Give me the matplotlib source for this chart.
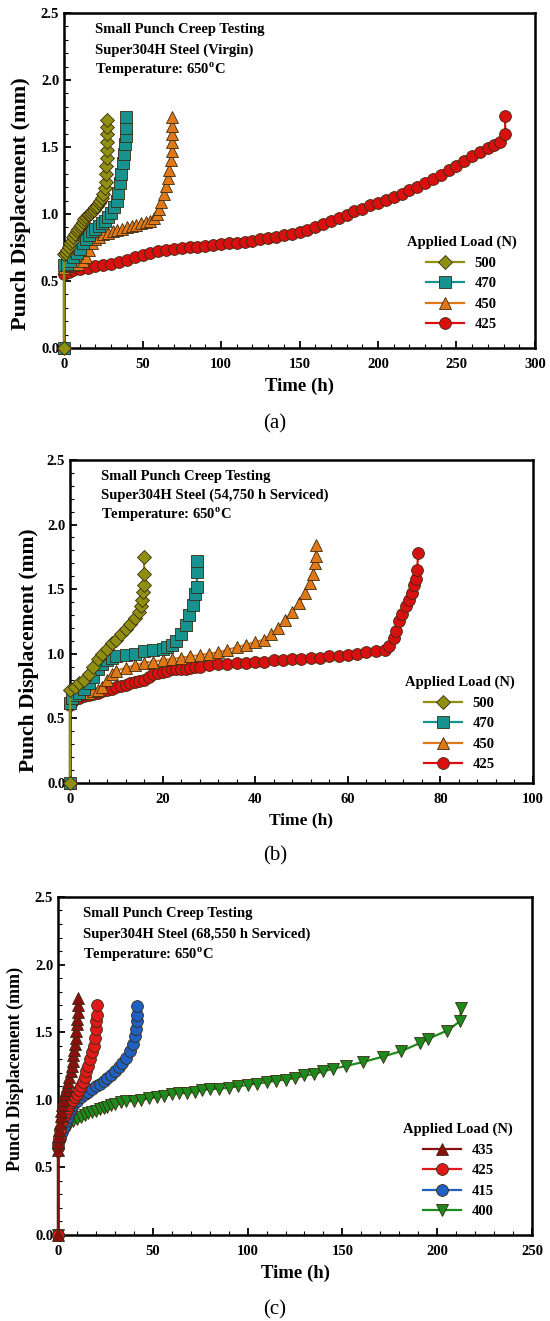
import matplotlib
matplotlib.use("Agg")
import matplotlib.pyplot as plt
from matplotlib.ticker import MultipleLocator, FormatStrFormatter

plt.rcParams['font.family'] = ['Liberation Serif', 'DejaVu Serif']
plt.rcParams['font.weight'] = 'bold'
plt.rcParams['mathtext.fontset'] = 'custom'
plt.rcParams['mathtext.rm'] = 'Liberation Serif:bold'
plt.rcParams['mathtext.bf'] = 'Liberation Serif:bold'

#%% Data
# (a) virgin
a500_t = [0, 0, 1, 2, 3, 4, 5, 6, 7, 8, 9, 10, 11, 12, 13, 14, 15, 16, 17, 18, 19, 20, 21, 22, 23, 24, 25, 26, 26.5, 26.8, 27, 27.2, 27.3, 27.4, 27.5, 27.5, 27.5]
a500_d = [0, 0.70, 0.71, 0.73, 0.75, 0.78, 0.80, 0.83, 0.85, 0.87, 0.89, 0.90, 0.92, 0.94, 0.96, 0.98, 0.99, 1.00, 1.01, 1.02, 1.03, 1.05, 1.06, 1.08, 1.10, 1.12, 1.15, 1.19, 1.24, 1.30, 1.36, 1.42, 1.48, 1.54, 1.60, 1.65, 1.70]
a470_t = [0, 0, 2, 4, 6, 8, 10, 12, 14, 16, 18, 20, 22, 24, 26, 28, 30, 32, 33.5, 34.5, 35.5, 36.5, 37.5, 38.3, 38.8, 39.2, 39.3, 39.3]
a470_d = [0, 0.62, 0.63, 0.65, 0.68, 0.71, 0.74, 0.78, 0.81, 0.84, 0.87, 0.89, 0.91, 0.93, 0.95, 0.98, 1.01, 1.05, 1.10, 1.16, 1.23, 1.30, 1.38, 1.45, 1.52, 1.58, 1.64, 1.72]
a450_t = [0, 0, 3, 6, 9, 12, 14, 16, 18, 20, 22, 25, 28, 31, 34, 37, 40, 43, 46, 49, 52, 55, 57, 59, 60.5, 62, 63.5, 65, 66, 67, 68, 68.5, 69, 69, 69, 69]
a450_d = [0, 0.60, 0.61, 0.62, 0.63, 0.65, 0.68, 0.73, 0.78, 0.81, 0.83, 0.85, 0.86, 0.87, 0.88, 0.89, 0.90, 0.91, 0.92, 0.93, 0.94, 0.95, 0.97, 1.00, 1.04, 1.09, 1.15, 1.21, 1.27, 1.33, 1.40, 1.47, 1.54, 1.60, 1.66, 1.72]
a425_t = [0, 0, 3, 6, 10, 15, 20, 25, 30, 35, 40, 45, 50, 55, 60, 65, 70, 75, 80, 85, 90, 95, 100, 105, 110, 115, 120, 125, 130, 135, 140, 145, 150, 155, 160, 165, 170, 175, 180, 185, 190, 195, 200, 205, 210, 215, 220, 225, 230, 235, 240, 245, 250, 255, 260, 265, 270, 274, 278, 281, 281]
a425_d = [0, 0.55, 0.57, 0.58, 0.59, 0.60, 0.61, 0.62, 0.63, 0.64, 0.66, 0.68, 0.69, 0.71, 0.72, 0.73, 0.74, 0.745, 0.75, 0.755, 0.76, 0.77, 0.775, 0.78, 0.785, 0.79, 0.80, 0.81, 0.82, 0.83, 0.84, 0.85, 0.865, 0.88, 0.90, 0.925, 0.95, 0.97, 0.995, 1.02, 1.04, 1.065, 1.085, 1.105, 1.125, 1.15, 1.175, 1.20, 1.23, 1.26, 1.29, 1.325, 1.36, 1.395, 1.43, 1.46, 1.49, 1.515, 1.54, 1.60, 1.73]

# (b) 54,750 h serviced
b500_t = [0, 0, 1, 2, 3, 4, 5, 6, 7, 8, 9, 10, 11, 12, 13, 14, 14.8, 15.3, 15.6, 15.8, 16, 16, 16]
b500_d = [0, 0.72, 0.74, 0.77, 0.80, 0.84, 0.90, 0.96, 1.00, 1.04, 1.08, 1.11, 1.15, 1.19, 1.23, 1.28, 1.32, 1.37, 1.42, 1.48, 1.53, 1.62, 1.75]
b470_t = [0, 0, 0.5, 1, 2, 3, 4, 5, 6, 7, 8, 9, 10, 12, 14, 16, 18, 20, 21, 22, 23, 24, 25, 25.8, 26.5, 27, 27.4, 27.4, 27.5]
b470_d = [0, 0.62, 0.66, 0.68, 0.70, 0.73, 0.77, 0.82, 0.88, 0.92, 0.95, 0.97, 0.98, 0.99, 1.00, 1.02, 1.03, 1.04, 1.05, 1.07, 1.10, 1.15, 1.22, 1.30, 1.38, 1.46, 1.52, 1.63, 1.72]
b450_t = [0, 0, 0.5, 1, 2, 3, 4, 5, 6, 7, 8, 9, 10, 12, 14, 16, 18, 20, 22, 24, 26, 28, 30, 32, 34, 36, 38, 40, 42, 43.5, 45, 46.5, 48, 49.5, 50.8, 51.8, 52.5, 53, 53.1, 53.1]
b450_d = [0, 0.62, 0.66, 0.68, 0.69, 0.70, 0.70, 0.71, 0.72, 0.74, 0.80, 0.84, 0.87, 0.89, 0.91, 0.93, 0.94, 0.95, 0.96, 0.97, 0.98, 0.99, 1.00, 1.01, 1.03, 1.05, 1.07, 1.09, 1.11, 1.15, 1.20, 1.26, 1.32, 1.39, 1.47, 1.55, 1.62, 1.70, 1.76, 1.84]
b425_t = [0, 0, 0.5, 1, 2, 3, 4, 5, 6, 7, 8, 9, 10, 11, 12, 13, 14, 15, 16, 17, 18, 19, 20, 21, 22, 23, 24, 25, 26, 27, 28, 30, 32, 34, 36, 38, 40, 42, 44, 46, 48, 50, 52, 54, 56, 58, 60, 62, 64, 66, 68, 69, 70, 70.5, 71, 71.8, 72.5, 73.2, 73.9, 74.4, 74.7, 75, 75.2]
b425_d = [0, 0.60, 0.63, 0.65, 0.66, 0.67, 0.68, 0.69, 0.70, 0.71, 0.72, 0.73, 0.74, 0.75, 0.76, 0.77, 0.78, 0.79, 0.80, 0.82, 0.84, 0.85, 0.86, 0.87, 0.88, 0.88, 0.88, 0.88, 0.89, 0.90, 0.90, 0.91, 0.92, 0.92, 0.93, 0.93, 0.94, 0.94, 0.95, 0.95, 0.96, 0.96, 0.97, 0.97, 0.98, 0.98, 0.99, 1.00, 1.01, 1.02, 1.03, 1.06, 1.12, 1.18, 1.25, 1.31, 1.37, 1.42, 1.47, 1.53, 1.58, 1.65, 1.78]

# (c) 68,550 h serviced
c435_t = [0, 0, 0.2, 0.4, 0.7, 1, 1.4, 1.8, 2.3, 2.8, 3.4, 4, 4.7, 5.4, 6, 6.6, 7.2, 7.7, 8.1, 8.5, 8.9, 9.3, 9.6, 9.9, 10.1, 10.3, 10.5, 10.7]
c435_d = [0, 0.63, 0.68, 0.73, 0.78, 0.83, 0.88, 0.92, 0.96, 1.00, 1.04, 1.07, 1.10, 1.13, 1.17, 1.21, 1.25, 1.29, 1.33, 1.37, 1.41, 1.46, 1.51, 1.56, 1.60, 1.65, 1.70, 1.75]
c425_t = [0, 0, 0.5, 1, 2, 3, 4, 5, 6, 7, 8, 9, 10, 11, 12, 13, 14, 15, 16, 17, 18, 18.8, 19.4, 19.9, 20.2, 20.4, 20.5]
c425_d = [0, 0.65, 0.72, 0.78, 0.84, 0.88, 0.91, 0.94, 0.96, 0.98, 1.00, 1.02, 1.04, 1.07, 1.10, 1.13, 1.17, 1.21, 1.25, 1.30, 1.35, 1.40, 1.46, 1.52, 1.58, 1.63, 1.70]
c415_t = [0, 0, 1, 2, 3, 4, 5, 6, 7, 8, 10, 12, 14, 16, 18, 20, 22, 24, 26, 28, 30, 32, 34, 36, 38, 39.5, 40.5, 41, 41.5, 41.7, 41.8]
c415_d = [0, 0.68, 0.72, 0.76, 0.80, 0.84, 0.87, 0.90, 0.93, 0.96, 0.99, 1.02, 1.04, 1.06, 1.08, 1.10, 1.12, 1.14, 1.16, 1.18, 1.21, 1.24, 1.27, 1.31, 1.36, 1.41, 1.47, 1.52, 1.58, 1.63, 1.69]
c400_t = [0, 0, 0.5, 1, 2, 3, 4, 6, 8, 10, 12, 14, 16, 18, 20, 22, 24, 26, 28, 30, 33, 36, 40, 44, 48, 52, 56, 60, 64, 68, 72, 76, 80, 85, 90, 95, 100, 105, 110, 115, 120, 125, 130, 135, 140, 145, 152, 161, 171.6, 181, 191, 195, 205, 212, 212.5]
c400_d = [0, 0.60, 0.66, 0.70, 0.74, 0.77, 0.79, 0.81, 0.84, 0.86, 0.87, 0.89, 0.90, 0.91, 0.92, 0.93, 0.94, 0.95, 0.96, 0.97, 0.98, 0.99, 0.99, 1.00, 1.01, 1.02, 1.03, 1.04, 1.05, 1.05, 1.06, 1.07, 1.08, 1.08, 1.09, 1.10, 1.11, 1.12, 1.13, 1.14, 1.15, 1.16, 1.18, 1.19, 1.21, 1.23, 1.25, 1.28, 1.32, 1.36, 1.42, 1.45, 1.51, 1.58, 1.68]

# series: (label, t, d, colour, marker), in legend order
panel_a = [("500", a500_t, a500_d, "#8f8f12", "D"),
           ("470", a470_t, a470_d, "#17928f", "s"),
           ("450", a450_t, a450_d, "#e07818", "^"),
           ("425", a425_t, a425_d, "#d81010", "o")]
panel_b = [("500", b500_t, b500_d, "#8f8f12", "D"),
           ("470", b470_t, b470_d, "#17928f", "s"),
           ("450", b450_t, b450_d, "#e07818", "^"),
           ("425", b425_t, b425_d, "#d81010", "o")]
panel_c = [("435", c435_t, c435_d, "#8a0f0f", "^"),
           ("425", c425_t, c425_d, "#e01a1a", "o"),
           ("415", c415_t, c415_d, "#2060c0", "o"),
           ("400", c400_t, c400_d, "#1c8a1c", "v")]

titles = [["Small Punch Creep Testing", "Super304H Steel (Virgin)", r"Temperature: 650$^{\mathbf{o}}$C"],
          ["Small Punch Creep Testing", "Super304H Steel (54,750 h Serviced)", r"Temperature: 650$^{\mathbf{o}}$C"],
          ["Small Punch Creep Testing", "Super304H Steel (68,550 h Serviced)", r"Temperature: 650$^{\mathbf{o}}$C"]]

#%% Figure
fig = plt.figure(figsize=(5.5, 13.21), dpi=100)
rects = [[0.1164, 0.7366, 0.8563, 0.2536],
         [0.1273, 0.4073, 0.8417, 0.2445],
         [0.1055, 0.0651, 0.8618, 0.2559]]
xlims = [(0, 300), (0, 100), (0, 250)]
xmaj = [50, 20, 50]
xmin = [10, 4, 10]
panels = [panel_a, panel_b, panel_c]
letters = ["(a)", "(b)", "(c)"]
letter_y = [1 - 424/1321, 1 - 856/1321, 1 - 1310/1321]
ylab_size = [16, 15.5, 13]
ylab_pos = [(-0.07, 0.43), (-0.067, 0.41), (-0.072, 0.49)]
xlab_size = [13.5, 12.5, 13.5]
text_x = [0.066, 0.066, 0.053]
leg_anchor = [(0.985, 0.015), (0.985, 0.0), (0.985, 0.015)]

for k in range(3):
    ax = fig.add_axes(rects[k])
    handles = []
    for lab, t, d, col, mk in panels[k][::-1]:
        h, = ax.plot(t, d, color=col, marker=mk, markersize=8.5 if mk != "D" else 7.5,
                     markeredgecolor="#3a2a10", markeredgewidth=0.6, lw=1.6, label=lab,
                     clip_on=False, zorder=3)
        handles.append(h)
    ax.set_xlim(*xlims[k])
    ax.set_ylim(0, 2.5)
    ax.xaxis.set_major_locator(MultipleLocator(xmaj[k]))
    ax.xaxis.set_minor_locator(MultipleLocator(xmin[k]))
    ax.yaxis.set_major_locator(MultipleLocator(0.5))
    ax.yaxis.set_minor_locator(MultipleLocator(0.1))
    ax.yaxis.set_major_formatter(FormatStrFormatter("%.1f"))
    ax.tick_params(which="both", direction="in", top=False, right=False, labelsize=10.5, width=1.3)
    ax.tick_params(axis="x", which="major", pad=7)
    ax.tick_params(which="major", length=5)
    ax.tick_params(which="minor", length=3, width=0.8)
    for s in ax.spines.values():
        s.set_linewidth(1.8)
    ax.set_xlabel("Time (h)", fontsize=xlab_size[k], fontweight="bold", labelpad=5)
    ax.set_ylabel("Punch Displacement (mm)", fontsize=ylab_size[k], fontweight="bold")
    ax.yaxis.set_label_coords(*ylab_pos[k])
    for i, line in enumerate(titles[k]):
        ax.text(text_x[k], 0.95 - i*0.06, line, transform=ax.transAxes, fontsize=10.5,
                fontweight="bold", va="center", ha="left")
    leg = ax.legend(handles[::-1], [h.get_label() for h in handles[::-1]],
                    loc="lower right", bbox_to_anchor=leg_anchor[k], frameon=False,
                    title="Applied Load (N)", fontsize=10.5, handlelength=2.6,
                    labelspacing=0.5, borderaxespad=0.4, handletextpad=0.7)
    leg.get_title().set_fontweight("bold")
    leg.get_title().set_fontsize(10.5)
    fig.text(0.5, letter_y[k], letters[k], fontsize=15, fontweight="normal",
             ha="center", va="center")

fig.savefig("out.png", dpi=100)
